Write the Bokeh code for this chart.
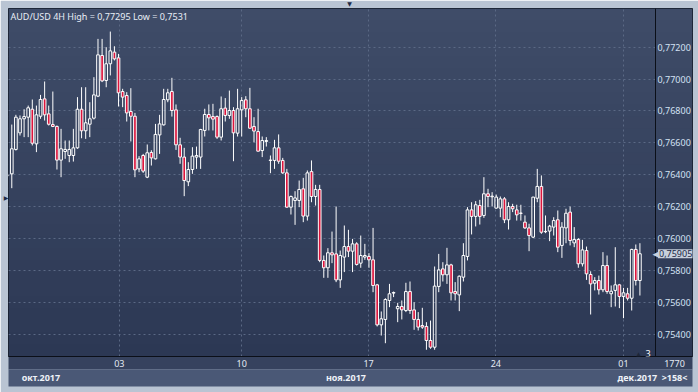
import numpy as np
from bokeh.plotting import figure
from bokeh.models import (Range1d, FixedTicker, CustomJSTickFormatter, LinearAxis,
                          BoxAnnotation, Label, ColumnDataSource, Span)
from bokeh.embed import file_html
from bokeh.resources import INLINE

# ---------------- data (AUD/USD, 4H candles) ----------------
candle_open = [
    0.76396, 0.76406, 0.76559, 0.76663, 0.76751, 0.76761, 0.76811, 0.76594, 0.76767, 0.76876,
    0.76782, 0.76715, 0.76703, 0.76492, 0.76546, 0.76521, 0.76521, 0.76569, 0.76811, 0.76676,
    0.76717, 0.76755, 0.76893, 0.77148, 0.76991, 0.77096, 0.77169, 0.77133, 0.76922, 0.76897,
    0.76797, 0.76767, 0.76437, 0.76521, 0.76385, 0.76540, 0.76500, 0.76650, 0.76713, 0.76870,
    0.76922, 0.76807, 0.76588, 0.76511, 0.76356, 0.76433, 0.76511, 0.76511, 0.76678, 0.76778,
    0.76765, 0.76765, 0.76636, 0.76818, 0.76772, 0.76803, 0.76661, 0.76807, 0.76870, 0.76814,
    0.76703, 0.76671, 0.76552, 0.76609, 0.76490, 0.76490, 0.76569, 0.76490, 0.76412, 0.76197,
    0.76239, 0.76239, 0.76312, 0.76141, 0.76420, 0.76264, 0.76308, 0.75863, 0.75817, 0.75911,
    0.75904, 0.75741, 0.75884, 0.75950, 0.75921, 0.75967, 0.75846, 0.75884, 0.75888, 0.75867,
    0.75710, 0.75459, 0.75493, 0.75612, 0.75658, 0.75560, 0.75574, 0.75549, 0.75668, 0.75553,
    0.75493, 0.75455, 0.75449, 0.75361, 0.75319, 0.75700, 0.75810, 0.75773, 0.75835, 0.75668,
    0.75647, 0.75758, 0.75888, 0.76180, 0.76139, 0.76207, 0.76145, 0.76281, 0.76262, 0.76191,
    0.76191, 0.76249, 0.76118, 0.76201, 0.76180, 0.76160, 0.76103, 0.76067, 0.76009, 0.76253,
    0.76327, 0.76045, 0.76047, 0.76072, 0.76118, 0.75957, 0.76067, 0.76166, 0.75973, 0.75994,
    0.75842, 0.75925, 0.75775, 0.75720, 0.75737, 0.75679, 0.75831, 0.75654, 0.75675, 0.75710,
    0.75637, 0.75654, 0.75626, 0.75932, 0.75737,
]
candle_high = [
    0.76406, 0.76715, 0.76776, 0.76772, 0.76811, 0.76834, 0.76872, 0.76834, 0.76901, 0.76985,
    0.76834, 0.76922, 0.76709, 0.76688, 0.76615, 0.76615, 0.76688, 0.76887, 0.76949, 0.76949,
    0.76855, 0.77012, 0.77252, 0.77252, 0.77200, 0.77298, 0.77206, 0.77158, 0.76939, 0.76918,
    0.76943, 0.76788, 0.76517, 0.76531, 0.76590, 0.76554, 0.76719, 0.76776, 0.76939, 0.76939,
    0.77008, 0.76841, 0.76632, 0.76569, 0.76479, 0.76573, 0.76577, 0.76688, 0.76814, 0.76841,
    0.76845, 0.76772, 0.76891, 0.76881, 0.76928, 0.76824, 0.76939, 0.76887, 0.76893, 0.76945,
    0.76761, 0.76814, 0.76640, 0.76636, 0.76521, 0.76619, 0.76653, 0.76506, 0.76437, 0.76270,
    0.76297, 0.76364, 0.76381, 0.76427, 0.76490, 0.76337, 0.76337, 0.75894, 0.75940, 0.76044,
    0.76201, 0.75925, 0.76082, 0.76055, 0.75998, 0.75977, 0.76019, 0.75967, 0.75909, 0.76067,
    0.75716, 0.75543, 0.75626, 0.75716, 0.75668, 0.75597, 0.75612, 0.75723, 0.75731, 0.75601,
    0.75539, 0.75566, 0.75476, 0.75486, 0.75825, 0.75904, 0.75852, 0.75942, 0.75842, 0.75727,
    0.75769, 0.75971, 0.76197, 0.76228, 0.76235, 0.76243, 0.76385, 0.76312, 0.76291, 0.76276,
    0.76264, 0.76260, 0.76228, 0.76218, 0.76212, 0.76212, 0.76145, 0.76093, 0.76262, 0.76437,
    0.76396, 0.76145, 0.76086, 0.76134, 0.76176, 0.76103, 0.76187, 0.76201, 0.76072, 0.76003,
    0.75992, 0.75950, 0.75795, 0.75758, 0.75768, 0.75915, 0.75894, 0.75706, 0.75946, 0.75716,
    0.75691, 0.75691, 0.75936, 0.75963, 0.75971,
]
candle_low = [
    0.76385, 0.76316, 0.76552, 0.76646, 0.76636, 0.76636, 0.76584, 0.76542, 0.76751, 0.76740,
    0.76709, 0.76699, 0.76433, 0.76385, 0.76500, 0.76479, 0.76483, 0.76563, 0.76629, 0.76625,
    0.76636, 0.76747, 0.76887, 0.76981, 0.76949, 0.77023, 0.77117, 0.76828, 0.76824, 0.76734,
    0.76609, 0.76385, 0.76416, 0.76412, 0.76379, 0.76458, 0.76496, 0.76531, 0.76709, 0.76855,
    0.76765, 0.76556, 0.76469, 0.76266, 0.76329, 0.76406, 0.76437, 0.76437, 0.76640, 0.76678,
    0.76678, 0.76625, 0.76615, 0.76734, 0.76751, 0.76485, 0.76640, 0.76640, 0.76761, 0.76688,
    0.76604, 0.76546, 0.76511, 0.76577, 0.76410, 0.76437, 0.76469, 0.76406, 0.76193, 0.76151,
    0.76086, 0.76197, 0.76103, 0.76113, 0.76228, 0.76207, 0.75852, 0.75754, 0.75754, 0.75846,
    0.75727, 0.75691, 0.75790, 0.75884, 0.75790, 0.75831, 0.75817, 0.75867, 0.75817, 0.75664,
    0.75449, 0.75392, 0.75344, 0.75570, 0.75633, 0.75476, 0.75493, 0.75539, 0.75528, 0.75428,
    0.75424, 0.75434, 0.75303, 0.75309, 0.75303, 0.75664, 0.75731, 0.75716, 0.75612, 0.75612,
    0.75545, 0.75731, 0.75863, 0.76026, 0.76076, 0.76088, 0.76130, 0.76197, 0.76201, 0.76187,
    0.76134, 0.76097, 0.76057, 0.76166, 0.76113, 0.76113, 0.76061, 0.75921, 0.76003, 0.76228,
    0.76030, 0.76034, 0.75984, 0.76019, 0.75915, 0.75879, 0.75971, 0.75957, 0.75946, 0.75817,
    0.75825, 0.75741, 0.75524, 0.75675, 0.75649, 0.75664, 0.75654, 0.75570, 0.75574, 0.75564,
    0.75501, 0.75612, 0.75549, 0.75706, 0.75643,
]
candle_close = [
    0.76398, 0.76563, 0.76761, 0.76751, 0.76765, 0.76820, 0.76598, 0.76776, 0.76872, 0.76776,
    0.76717, 0.76703, 0.76492, 0.76563, 0.76559, 0.76559, 0.76569, 0.76811, 0.76676, 0.76726,
    0.76751, 0.76901, 0.77152, 0.76989, 0.77096, 0.77177, 0.77127, 0.76914, 0.76887, 0.76788,
    0.76767, 0.76431, 0.76500, 0.76423, 0.76538, 0.76506, 0.76653, 0.76719, 0.76872, 0.76914,
    0.76803, 0.76588, 0.76511, 0.76364, 0.76433, 0.76517, 0.76521, 0.76684, 0.76778, 0.76757,
    0.76749, 0.76636, 0.76814, 0.76772, 0.76803, 0.76663, 0.76814, 0.76866, 0.76814, 0.76692,
    0.76674, 0.76548, 0.76615, 0.76615, 0.76492, 0.76569, 0.76485, 0.76412, 0.76197, 0.76264,
    0.76255, 0.76308, 0.76141, 0.76412, 0.76264, 0.76308, 0.75863, 0.75817, 0.75911, 0.75898,
    0.75741, 0.75894, 0.75950, 0.75921, 0.75967, 0.75838, 0.75894, 0.75894, 0.75867, 0.75706,
    0.75459, 0.75497, 0.75618, 0.75654, 0.75662, 0.75574, 0.75553, 0.75668, 0.75549, 0.75493,
    0.75445, 0.75445, 0.75361, 0.75319, 0.75702, 0.75804, 0.75773, 0.75835, 0.75660, 0.75654,
    0.75764, 0.75894, 0.76180, 0.76139, 0.76212, 0.76139, 0.76281, 0.76264, 0.76266, 0.76260,
    0.76249, 0.76118, 0.76201, 0.76187, 0.76149, 0.76158, 0.76067, 0.76019, 0.76260, 0.76327,
    0.76040, 0.76043, 0.76078, 0.76113, 0.75946, 0.76072, 0.76159, 0.75988, 0.75994, 0.75842,
    0.75929, 0.75779, 0.75716, 0.75737, 0.75679, 0.75831, 0.75668, 0.75670, 0.75710, 0.75637,
    0.75660, 0.75626, 0.75932, 0.75737, 0.75905,
]
price_ticks = [0.754, 0.756, 0.758, 0.760, 0.762, 0.764, 0.766, 0.768, 0.770, 0.772]
day_tick_pos = [28.2, 58.0, 88.9, 119.9, 151.0]          # candle index of each date
day_tick_labels = ["03", "10", "17", "24", "01"]
month_tick_pos = [9.1, 83.4, 154.4]
month_tick_labels = ["окт.2017", "ноя.2017", "дек.2017"]
title_text = "AUD/USD 4H High = 0,77295 Low = 0,7531"
bars_total = "1770"
bars_visible = ">158<"
marker_count = "3"

# ---------------- layout constants ----------------
W, H = 698, 392
FL, FT, FR, FB = 8, 8, 692, 356          # frame edges in canvas px (price panel inside frame)
CR = 655                                  # right edge of the candle area
PXU = 4.1054                              # px per candle
X0 = 1.2
X1 = X0 + (FR - FL) / PXU
XC = X0 + (CR - FL) / PXU                 # index at right edge of candle area
XINFO = X0 + (674 - FL) / PXU             # index of the info panel centre
Y0, Y1 = 0.752607, 0.774426
FONT = "Noto Sans"
FRAME_LIGHT = "#b9c4d3"
BEAR = "#dc143c"

o = np.array(candle_open); h = np.array(candle_high)
l = np.array(candle_low); c = np.array(candle_close)
x = np.arange(1, len(o) + 1)
body_top = np.maximum(o, c)
body_bot = np.minimum(o, c)
bull = c >= o

src = ColumnDataSource(dict(x=x, h=h, l=l, top=body_top, bot=body_bot,
                            fill=[("#000000" if b else BEAR) for b in bull],
                            alpha=[(0.0 if b else 1.0) for b in bull]))

p = figure(width=W, height=H, output_backend="svg", toolbar_location=None,
           x_range=Range1d(X0, X1), y_range=Range1d(Y0, Y1),
           y_axis_location="right", title=None,
           min_border_left=FL, min_border_top=FT,
           min_border_right=W - FR, min_border_bottom=H - FB)
p.border_fill_color = FRAME_LIGHT
p.background_fill_color = "#36425e"
p.outline_line_color = "#151b28"
p.outline_line_width = 1


def sbox(x0, x1, y0, y1, color, alpha=1.0, level="image"):
    b = BoxAnnotation(left=x0 - FL, right=x1 - FL, top=FB - y0, bottom=FB - y1,
                      left_units="screen", right_units="screen",
                      top_units="screen", bottom_units="screen",
                      fill_color=color, fill_alpha=alpha, line_color=None, level=level)
    p.add_layout(b)
    return b


# grid (x grid only at the day ticks)
p.xgrid.ticker = FixedTicker(ticks=day_tick_pos)
p.ygrid.ticker = FixedTicker(ticks=price_ticks)
for g in (p.xgrid, p.ygrid):
    g.grid_line_color = "#5b6985"
    g.grid_line_dash = "2 3"
    g.grid_line_width = 1

# background gradient: candle area under the grid, price panel over it
top_rgb = np.array([63, 76, 104]); bot_rgb = np.array([44, 56, 84])
nb = 29
edges = np.linspace(FT, FB, nb + 1)
for i in range(nb):
    t = (i + 0.5) / nb
    col = "#%02x%02x%02x" % tuple(int(round(v)) for v in top_rgb * (1 - t) + bot_rgb * t)
    sbox(FL, CR, edges[i], edges[i + 1] + 0.5, col, level="image")
    sbox(CR, FR, edges[i], edges[i + 1] + 0.5, col, level="underlay")

p.add_layout(Span(location=XC, dimension="height", line_color="#0b0f18", line_width=1))

# candles
p.segment(x0="x", y0="h", x1="x", y1="top", source=src, line_color="#ffffff", line_width=1)
p.segment(x0="x", y0="bot", x1="x", y1="l", source=src, line_color="#ffffff", line_width=1)
p.vbar(x="x", width=0.65, top="top", bottom="bot", source=src,
       fill_color="fill", fill_alpha="alpha", line_color="#ffffff", line_width=1)


def axis_bg(ax, color):
    try:
        ax.background_fill_color = color
        ax.background_fill_alpha = 1.0
    except Exception:
        pass


# price axis: labels drawn back into the price panel
ya = p.yaxis[0]
ya.ticker = FixedTicker(ticks=price_ticks)
ya.formatter = CustomJSTickFormatter(code="return tick.toFixed(5).replace('.', ',');")
ya.axis_line_color = None
ya.major_tick_line_color = None
ya.minor_tick_line_color = None
ya.major_tick_out = 0
ya.major_tick_in = 0
ya.major_label_standoff = -(FR - CR) + 2
ya.major_label_text_font = FONT
ya.major_label_text_font_size = "9px"
ya.major_label_text_color = "#d3e1f3"

fmt_code = ("const i = t.findIndex(v => Math.abs(v - tick) < 1e-6);"
            "return i >= 0 ? lab[i] : '';")

# day axis (+ bar count of the info panel)
d_pos = day_tick_pos + [XINFO]
d_lab = day_tick_labels + [bars_total]
xa = p.xaxis[0]
xa.ticker = FixedTicker(ticks=d_pos)
xa.formatter = CustomJSTickFormatter(args=dict(t=d_pos, lab=d_lab), code=fmt_code)
xa.axis_line_color = "#0b0f18"
xa.major_tick_line_color = None
xa.minor_tick_line_color = None
xa.major_tick_out = 0
xa.major_tick_in = 0
xa.major_label_standoff = 3
xa.major_label_text_font = FONT
xa.major_label_text_font_size = "9px"
xa.major_label_text_color = "#e4eaf3"
axis_bg(xa, "#36425e")

# month axis (+ visible-bars count of the info panel)
m_pos = month_tick_pos + [XINFO]
m_lab = month_tick_labels + [bars_visible]
ma = LinearAxis(ticker=FixedTicker(ticks=m_pos),
                formatter=CustomJSTickFormatter(args=dict(t=m_pos, lab=m_lab), code=fmt_code))
ma.axis_line_color = None
ma.major_tick_line_color = None
ma.minor_tick_line_color = None
ma.major_tick_out = 0
ma.major_tick_in = 0
ma.major_label_standoff = 1
ma.major_label_text_font = FONT
ma.major_label_text_font_size = "9px"
ma.major_label_text_font_style = "bold"
ma.major_label_text_color = "#eef2f8"
axis_bg(ma, "#4a5876")
p.add_layout(ma, "below")


def flabel(text, cx, cy, color, size="9px", align="left", font=FONT, bg=None):
    lb = Label(x=cx - FL, y=FB - cy, x_units="screen", y_units="screen", text=text,
               text_font=font, text_font_size=size, text_color=color,
               text_align=align, text_baseline="middle")
    if bg is not None:
        lb.background_fill_color = bg
    p.add_layout(lb)
    return lb


flabel(title_text, 10, 15.5, "#e9eef6")
flabel(marker_count, 645, 352.5, "#ffffff")
flabel("\u25b2", 638, 353, "#1d2638", size="6px", align="center", font="DejaVu Sans")

# last-price marker in the price panel
last = Label(x=657.5 - FL, y=candle_close[-1], x_units="screen", y_units="data",
             text="0,75905", text_font=FONT, text_font_size="9px",
             text_color="#1b2946", text_align="left", text_baseline="middle",
             background_fill_color="#c7d0dc")
try:
    last.padding = 1
except Exception:
    pass
p.add_layout(last)
arrow = Label(x=655.5 - FL, y=candle_close[-1], x_units="screen", y_units="data",
              text="\u25c0", text_font="DejaVu Sans", text_font_size="9px",
              text_color="#c7d0dc", text_align="center", text_baseline="middle")
p.add_layout(arrow)

# small scroll markers in the light frame (tiny side-panel labels, thinner than the border)
tri_top = Label(x=349 - FL, y=5, x_units="screen", y_units="screen", text="\u25bc",
                text_font="DejaVu Sans", text_font_size="6px", text_color="#1e2a44",
                text_align="center", text_baseline="middle")
p.add_layout(tri_top, "above")
tri_left = Label(x=2.5, y=FB - 196.5, x_units="screen", y_units="screen", text="\u25b6",
                 text_font="DejaVu Sans", text_font_size="6px", text_color="#1e2a44",
                 text_align="center", text_baseline="middle")
p.add_layout(tri_left, "left")

open("out.html", "w").write(file_html(p, INLINE))
